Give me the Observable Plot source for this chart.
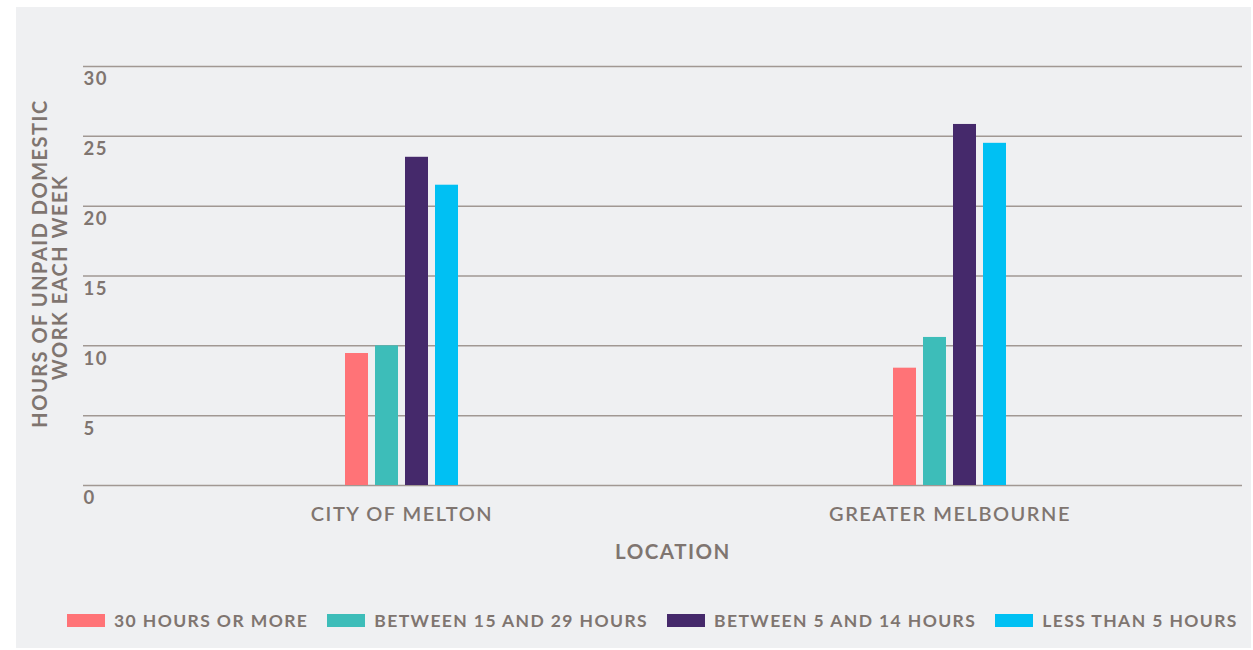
<!DOCTYPE html>
<html>
<head>
<meta charset="utf-8">
<script src="https://cdn.jsdelivr.net/npm/d3@7"></script>
<script src="https://cdn.jsdelivr.net/npm/@observablehq/plot@0.6"></script>
<style>
  html, body { margin: 0; padding: 0; background: #ffffff; }
  #panel {
    position: absolute; left: 16px; top: 7px; width: 1235px; height: 641px;
    background: #eff0f2; overflow: hidden;
  }
  #panel svg { position: absolute; left: 0; top: 0; }
  #panel svg text { letter-spacing: 1.5px; }
  #legend {
    position: absolute; left: 51px; top: 603px; display: flex; align-items: center;
    gap: 19px; font-family: Lato, sans-serif; font-weight: 700; font-size: 17.5px;
    color: #7f7570; letter-spacing: 1.4px;
  }
  .item { display: flex; align-items: center; gap: 9px; white-space: nowrap; }
  .sw { width: 38px; height: 13px; display: inline-block; }
</style>
</head>
<body>
<div id="panel"><div id="legend"></div></div>
<script>
const locations = ["CITY OF MELTON", "GREATER MELBOURNE"];
const series = ["30 HOURS OR MORE", "BETWEEN 15 AND 29 HOURS", "BETWEEN 5 AND 14 HOURS", "LESS THAN 5 HOURS"];
const colors = ["#ff7377", "#3dbdb9", "#45296b", "#00c0f3"];
const meltonValues = [9.45, 10.0, 23.5, 21.5];
const melbourneValues = [8.4, 10.6, 25.85, 24.5];
const yTicks = [0, 5, 10, 15, 20, 25, 30];
const yTitle = ["HOURS OF UNPAID DOMESTIC", "WORK EACH WEEK"];
const xTitle = "LOCATION";

const textColor = "#7f7570";
const rows = [];
series.forEach((s, i) => {
  rows.push({location: locations[0], series: s, value: meltonValues[i], i});
  rows.push({location: locations[1], series: s, value: melbourneValues[i], i});
});

const groupWidth = 113, step = 30, barW = 23;
const barMarks = series.map((s, i) => Plot.barY(rows.filter(d => d.i === i), {
  x: "location", y: "value", fill: colors[i],
  insetLeft: i * step, insetRight: groupWidth - barW - i * step
}));

const chart = Plot.plot({
  width: 1235,
  height: 570,
  marginLeft: 67,
  marginRight: 9,
  marginTop: 59,
  marginBottom: 92,
  style: {background: "transparent", fontFamily: "Lato, sans-serif"},
  x: {domain: locations, range: [329, 990], paddingInner: 0.794, paddingOuter: 0, axis: null},
  y: {domain: [0, 30], axis: null},
  marks: [
    Plot.ruleY(yTicks, {stroke: "#a19893", strokeWidth: 1.5}),
    ...barMarks,
    Plot.text(yTicks, {y: d => d, text: d => String(d), frameAnchor: "left", textAnchor: "start",
      dy: 13, dx: 0, fill: textColor, fontSize: 18.5, fontWeight: 700}),
    Plot.text(locations, {x: d => d, text: d => d, frameAnchor: "bottom", dy: 29, dx: 0,
      fill: textColor, fontSize: 20, fontWeight: 600, lineAnchor: "middle"}),
    Plot.text([xTitle], {text: d => d, frameAnchor: "bottom", dy: 67, dx: 10,
      fill: textColor, fontSize: 20.5, fontWeight: 700, lineAnchor: "middle"}),
    Plot.text([yTitle[0]], {text: d => d, frameAnchor: "left", textAnchor: "middle", rotate: -90, dx: -43, dy: -12.5,
      fill: textColor, fontSize: 20, fontWeight: 700, lineAnchor: "middle"}),
    Plot.text([yTitle[1]], {text: d => d, frameAnchor: "left", textAnchor: "middle", rotate: -90, dx: -23, dy: 1.5,
      fill: textColor, fontSize: 20, fontWeight: 700, lineAnchor: "middle"})
  ]
});
document.getElementById("panel").prepend(chart);

const legend = document.getElementById("legend");
series.forEach((s, i) => {
  const item = document.createElement("div");
  item.className = "item";
  const sw = document.createElement("span");
  sw.className = "sw";
  sw.style.background = colors[i];
  const t = document.createElement("span");
  t.textContent = s;
  item.append(sw, t);
  legend.append(item);
});
</script>
</body>
</html>
